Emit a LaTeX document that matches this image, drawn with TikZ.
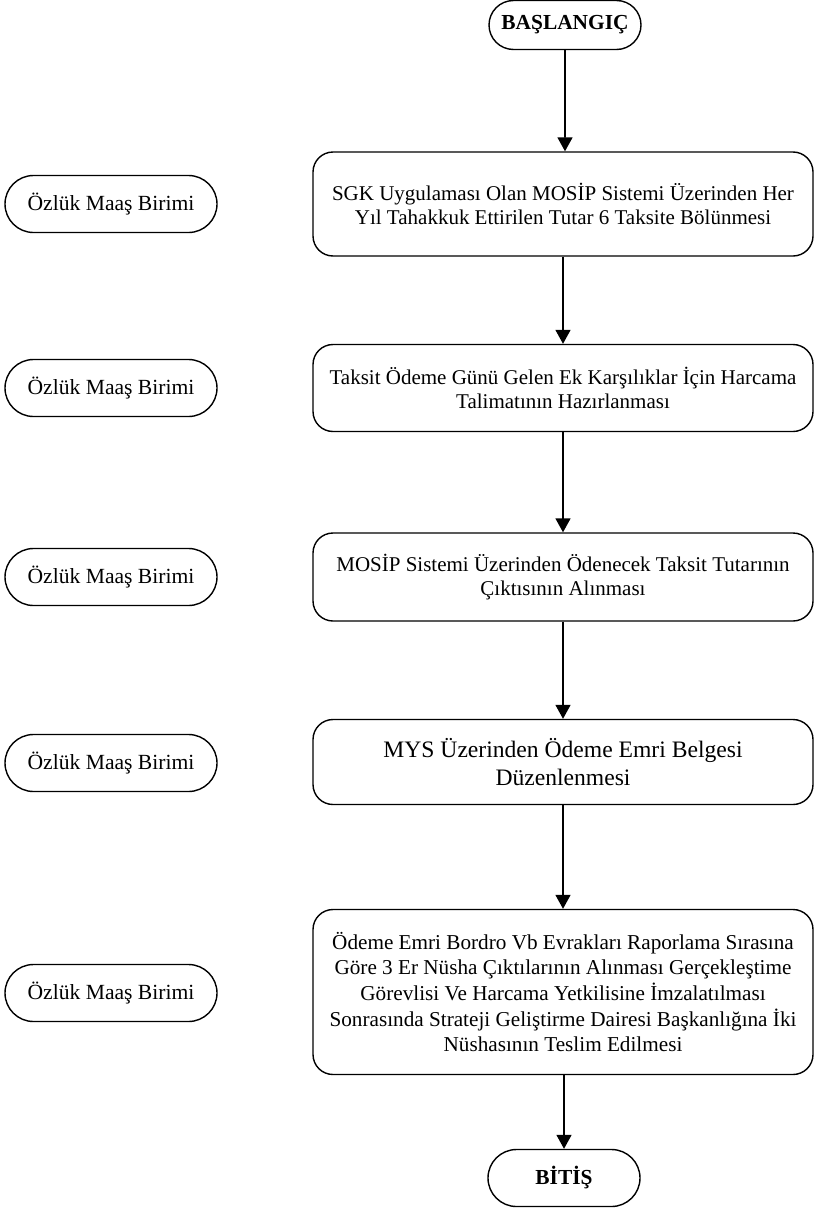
\documentclass[tikz,border=0pt]{standalone}
\usepackage{fontspec}
\setmainfont{Liberation Serif}
\usetikzlibrary{arrows.meta,shapes.misc}
\tikzset{
  pill/.style={draw, rounded rectangle, line width=0.7pt, inner sep=0pt},
  islem/.style={draw, rounded corners=10pt, line width=0.7pt, minimum width=250pt,
    align=center, font=\fontsize{10.5}{12.3}\selectfont},
  birim/.style={pill, minimum width=106pt, minimum height=28.5pt, font=\fontsize{10.8}{13}\selectfont},
  ok/.style={-{Triangle[width=7.5pt,length=7pt]}, line width=0.8pt}
}
\begin{document}
\begin{tikzpicture}[x=0.5pt,y=-0.5pt]
        \useasboundingbox (0,0) rectangle (814,1210);
        % Uclar
        \node [pill, minimum width=76pt, minimum height=24.5pt, font=\bfseries\fontsize{10.7}{12}\selectfont] (bas) at (565,25) {BAŞLANGIÇ};
        \node [pill, minimum width=76pt, minimum height=28.5pt, font=\bfseries\fontsize{10.7}{12}\selectfont] (bit) at (564,1178) {BİTİŞ};
        % Kutular
        \node [islem, minimum height=52pt] (k1) at (563,204) {SGK Uygulaması Olan MOSİP Sistemi Üzerinden Her\\Yıl Tahakkuk Ettirilen Tutar 6 Taksite Bölünmesi};
        \node [islem, minimum height=43.5pt] (k2) at (563,388) {Taksit Ödeme Günü Gelen Ek Karşılıklar İçin Harcama\\Talimatının Hazırlanması};
        \node [islem, minimum height=44pt] (k3) at (563,577) {MOSİP Sistemi Üzerinden Ödenecek Taksit Tutarının\\Çıktısının Alınması};
        \node [islem, minimum height=42.5pt, font=\fontsize{11.8}{14}\selectfont] (k4) at (563,762) {MYS Üzerinden Ödeme Emri Belgesi\\Düzenlenmesi};
        \node [islem, minimum height=82.5pt, font=\fontsize{10.6}{12.8}\selectfont] (k5) at (563,992) {Ödeme Emri Bordro Vb Evrakları Raporlama Sırasına\\Göre 3 Er Nüsha Çıktılarının Alınması Gerçekleştime\\Görevlisi Ve Harcama Yetkilisine İmzalatılması\\Sonrasında Strateji Geliştirme Dairesi Başkanlığına İki\\Nüshasının Teslim Edilmesi};
        % Birimler
        \node [birim] (b1) at (111,204) {Özlük Maaş Birimi};
        \node [birim] (b2) at (111,388) {Özlük Maaş Birimi};
        \node [birim] (b3) at (111,577) {Özlük Maaş Birimi};
        \node [birim] (b4) at (111,763) {Özlük Maaş Birimi};
        \node [birim] (b5) at (111,993) {Özlük Maaş Birimi};
        % Oklar
        \draw [ok] (bas) -- (bas |- k1.north);
        \draw [ok] (k1) -- (k2);
        \draw [ok] (k2) -- (k3);
        \draw [ok] (k3) -- (k4);
        \draw [ok] (k4) -- (k5);
        \draw [ok] (k5.south -| bit) -- (bit);
\end{tikzpicture}
\end{document}
